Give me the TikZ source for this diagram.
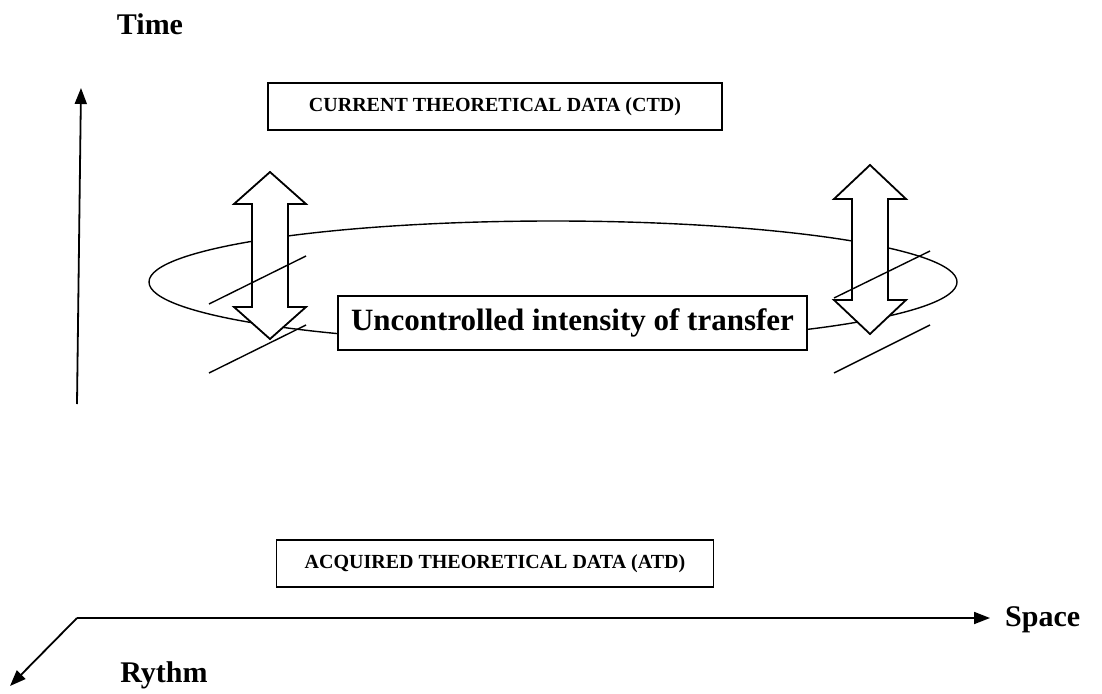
\documentclass[tikz,border=0pt]{standalone}
\usepackage{fontspec}
\setmainfont{Liberation Serif}
\usetikzlibrary{arrows.meta}
\tikzset{
  axis/.style={line width=1.8pt,-{Triangle[length=16pt,width=12pt]}},
  databox/.style={draw,line width=1.6pt,fill=white,inner sep=0pt,font=\bfseries\fontsize{20}{23}\selectfont},
  bigbox/.style={draw,line width=1.6pt,fill=white,inner sep=0pt,font=\bfseries\fontsize{31}{36}\selectfont},
  axlabel/.style={inner sep=0pt,font=\bfseries\fontsize{30}{34}\selectfont},
  dblarrow/.style={draw,line width=1.8pt,fill=white,line join=miter},
  thin/.style={line width=1.4pt}
}
\begin{document}
\begin{tikzpicture}[x=1pt,y=-1pt]
\useasboundingbox (0,0) rectangle (1102,693);
% axes
\coordinate (tbot) at (77,404);
\coordinate (ttop) at (81,88);
\coordinate (corner) at (77,618);
\coordinate (send) at (990,618);
\coordinate (rend) at (10,686);
\draw[axis] (tbot) -- (ttop);
\draw[axis] (corner) -- (send);
\draw[axis] (corner) -- (rend);
\node[axlabel] (time) at (150,24) {Time};
\node[axlabel,anchor=west] (space) at (1005,620) {Space};
\node[axlabel] (rythm) at (164,675) {Rythm};
% data boxes
\node[databox,minimum width=454pt,minimum height=47pt] (ctd) at (495,106.5) {CURRENT THEORETICAL DATA (CTD)};
\node[databox,minimum width=437pt,minimum height=47pt] (atd) at (495,563.5) {ACQUIRED THEORETICAL DATA (ATD)};
% ellipse
\draw[thin] (553,282) ellipse [x radius=404pt, y radius=61pt];
% double arrows
\draw[dblarrow] (270,172) -- (306,204) -- (288,204) -- (288,307) -- (306,307) -- (270,339) -- (234,307) -- (252,307) -- (252,204) -- (234,204) -- cycle;
\draw[dblarrow] (870,165) -- (906,199) -- (888,199) -- (888,300) -- (906,300) -- (870,334) -- (834,300) -- (852,300) -- (852,199) -- (834,199) -- cycle;
% central box
\node[bigbox,minimum width=469pt,minimum height=54pt] (unc) at (572.5,323) {Uncontrolled intensity of transfer};
% diagonal strokes
\draw[thin] (209,304) -- (306,256);
\draw[thin] (209,373) -- (306,325);
\draw[thin] (834,298) -- (930,251);
\draw[thin] (834,373) -- (930,325);
\end{tikzpicture}
\end{document}
